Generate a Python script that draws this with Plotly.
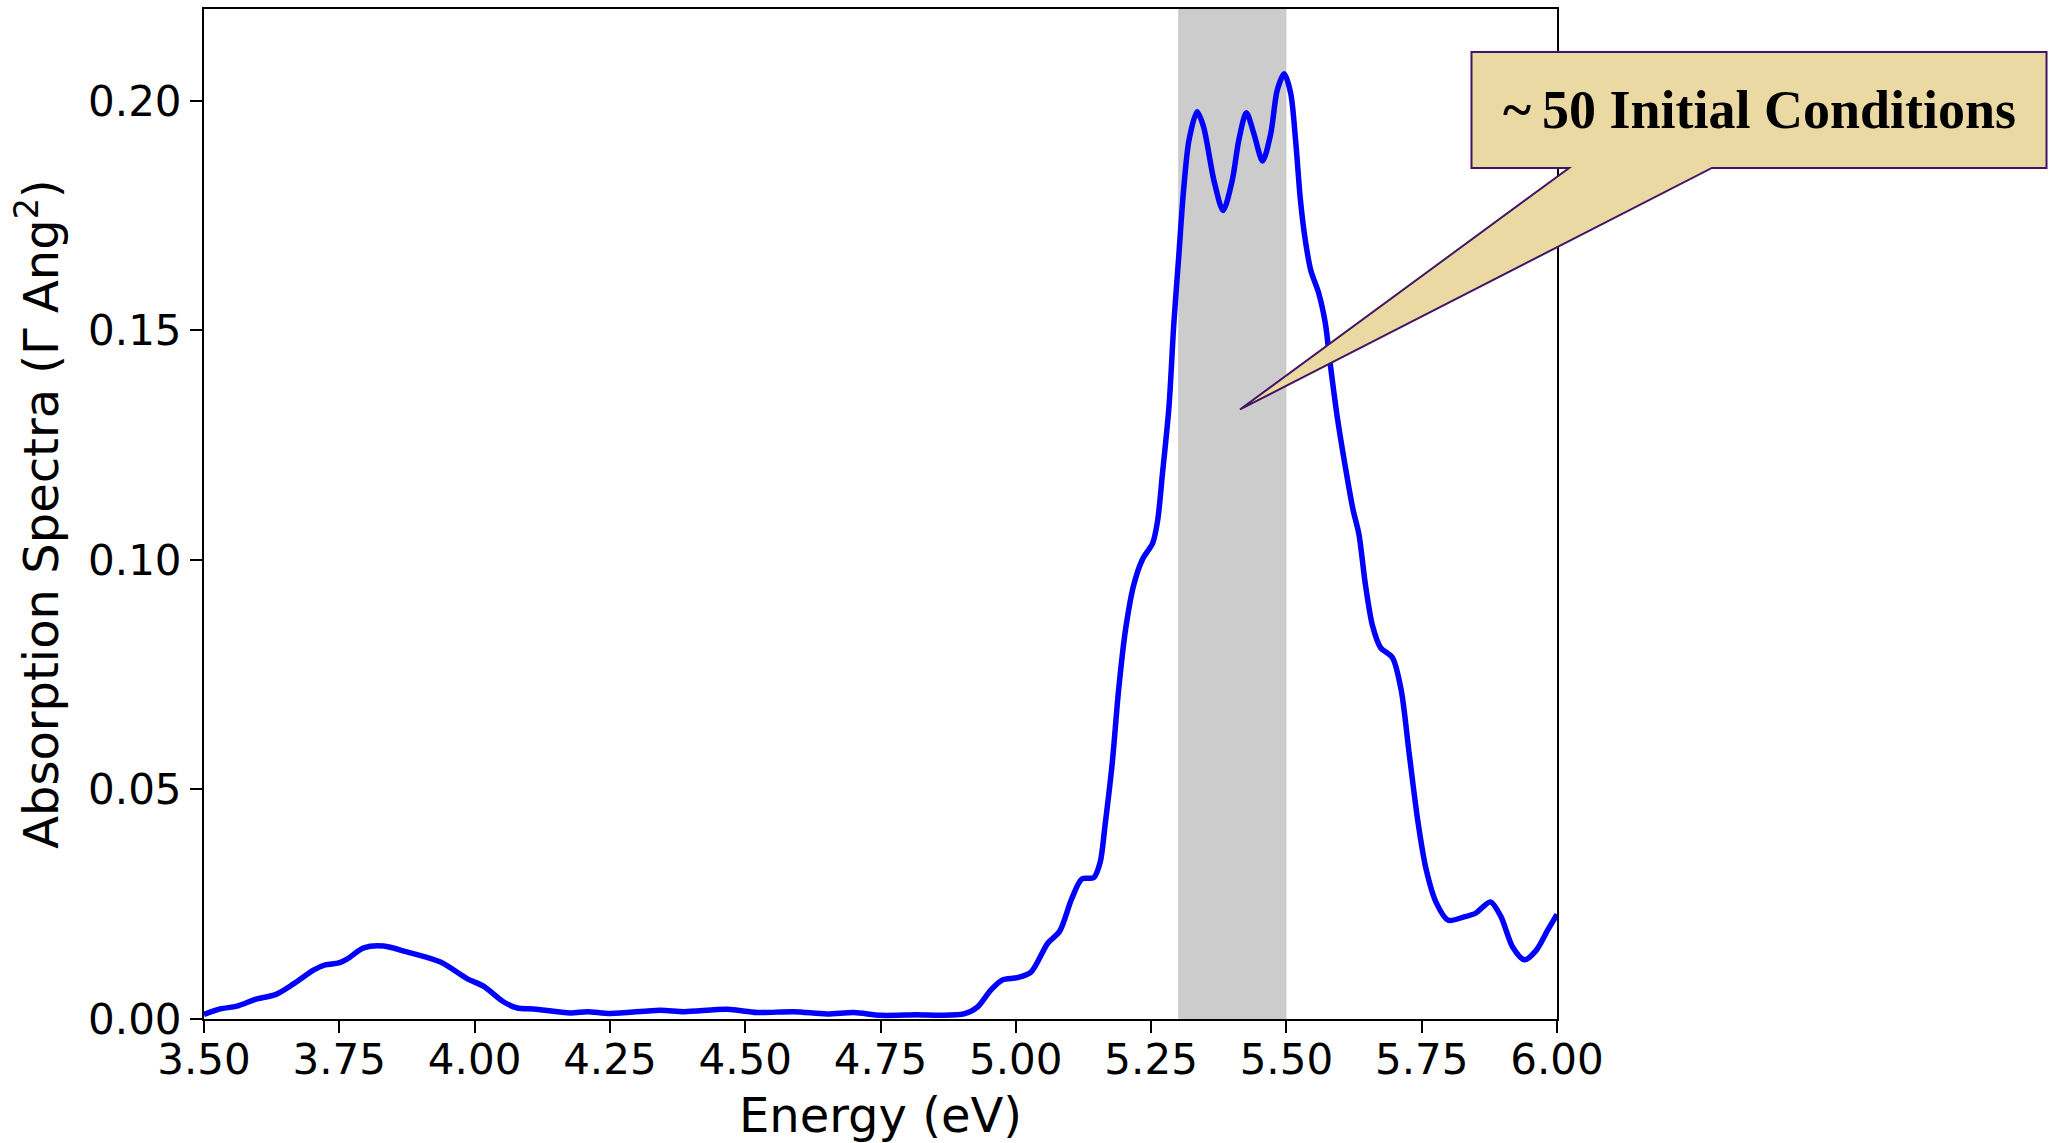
import plotly.graph_objects as go

# ---- data ----
energy = [3.500, 3.530, 3.561, 3.598, 3.632, 3.666, 3.703, 3.724, 3.749, 3.765,
          3.795, 3.832, 3.875, 3.937, 3.986, 4.017, 4.054, 4.079, 4.109, 4.177,
          4.208, 4.251, 4.343, 4.387, 4.467, 4.522, 4.590, 4.651, 4.701, 4.750,
          4.818, 4.861, 4.904, 4.929, 4.953, 4.975, 5.003, 5.028, 5.059, 5.081,
          5.103, 5.122, 5.144, 5.156, 5.165, 5.178, 5.190, 5.203, 5.218, 5.234,
          5.253, 5.262, 5.271, 5.283, 5.292, 5.301, 5.310, 5.320, 5.335, 5.347,
          5.366, 5.383, 5.400, 5.412, 5.426, 5.440, 5.456, 5.471, 5.483, 5.496,
          5.508, 5.517, 5.526, 5.535, 5.545, 5.560, 5.572, 5.581, 5.594, 5.609,
          5.623, 5.634, 5.646, 5.659, 5.674, 5.696, 5.712, 5.727, 5.743, 5.758,
          5.777, 5.799, 5.827, 5.849, 5.877, 5.896, 5.918, 5.940, 5.962, 5.983,
          6.000]
absorption = [0.0010, 0.0022, 0.0028, 0.0044, 0.0053, 0.0077, 0.0107, 0.0118, 0.0122, 0.0131,
              0.0155, 0.0159, 0.0146, 0.0124, 0.0088, 0.0071, 0.0037, 0.0024, 0.0022, 0.0013,
              0.0016, 0.0012, 0.0019, 0.0016, 0.0021, 0.0014, 0.0016, 0.0011, 0.0014, 0.0008,
              0.0009, 0.0008, 0.0011, 0.0026, 0.0062, 0.0085, 0.0090, 0.0102, 0.0165, 0.0191,
              0.0261, 0.0305, 0.0308, 0.0342, 0.0423, 0.0555, 0.0717, 0.0850, 0.0946, 0.1001,
              0.1037, 0.1085, 0.1188, 0.1333, 0.1515, 0.1660, 0.1805, 0.1914, 0.1976, 0.1943,
              0.1827, 0.1761, 0.1827, 0.1914, 0.1974, 0.1928, 0.1869, 0.1928, 0.2023, 0.2059,
              0.2016, 0.1914, 0.1783, 0.1696, 0.1631, 0.1580, 0.1515, 0.1427, 0.1311, 0.1202,
              0.1110, 0.1056, 0.0946, 0.0857, 0.0809, 0.0787, 0.0717, 0.0577, 0.0430, 0.0327,
              0.0253, 0.0215, 0.0222, 0.0230, 0.0255, 0.0224, 0.0157, 0.0129, 0.0150, 0.0194,
              0.0228]

band_range = [5.30, 5.50]
x_ticks = [3.50, 3.75, 4.00, 4.25, 4.50, 4.75, 5.00, 5.25, 5.50, 5.75, 6.00]
y_ticks = [0.00, 0.05, 0.10, 0.15, 0.20]
x_tick_labels = ["%.2f" % v for v in x_ticks]
y_tick_labels = ["%.2f" % v for v in y_ticks]
callout_text = "~\u200950 Initial Conditions"

# ---- callout geometry (paper coordinates) ----
BOX_L, BOX_R, BOX_T, BOX_B = 0.9368, 1.3618, 0.9574, 0.8426
WEDGE_L, WEDGE_R = 1.0089, 1.1145
TIP_X, TIP_Y = 0.7657, 0.6035

fig = go.Figure()
fig.add_trace(go.Scatter(
    x=energy, y=absorption, mode="lines",
    line=dict(color="#0000ff", width=5.5, shape="spline", smoothing=0.8),
    showlegend=False, hoverinfo="skip"))

fig.add_shape(type="rect", xref="x", yref="paper", x0=band_range[0], x1=band_range[1],
              y0=0, y1=1, fillcolor="#cccccc", line=dict(width=0), layer="below")

path = (f"M {BOX_L},{BOX_T} L {BOX_R},{BOX_T} L {BOX_R},{BOX_B} L {WEDGE_R},{BOX_B} "
        f"L {TIP_X},{TIP_Y} L {WEDGE_L},{BOX_B} L {BOX_L},{BOX_B} Z")
fig.add_shape(type="path", xref="paper", yref="paper", path=path,
              fillcolor="#ebd9a3", line=dict(color="#421563", width=2), layer="above")

fig.add_annotation(xref="paper", yref="paper", x=(BOX_L + BOX_R) / 2, y=(BOX_T + BOX_B) / 2,
                   text="<b>" + callout_text + "</b>", showarrow=False,
                   font=dict(family="Liberation Serif", size=54, color="black"),
                   xanchor="center", yanchor="middle")

axis_common = dict(showline=True, linecolor="black", linewidth=2, mirror=True,
                   ticks="outside", ticklen=12, tickwidth=2, tickcolor="black",
                   showgrid=False, zeroline=False,
                   tickfont=dict(family="DejaVu Sans", size=42, color="black"))

fig.update_xaxes(range=[3.5, 6.0], tickvals=x_ticks, ticktext=x_tick_labels,
                 ticklabelstandoff=-9,
                 title=dict(text="Energy (eV)", font=dict(family="DejaVu Sans", size=48, color="black"),
                            standoff=17),
                 **axis_common)
fig.update_yaxes(range=[0, 0.22], tickvals=y_ticks, ticktext=y_tick_labels,
                 title=dict(text="Absorption Spectra (\u0393 Ang<sup>2</sup>)",
                            font=dict(family="DejaVu Sans", size=48, color="black"),
                            standoff=14),
                 **axis_common)

fig.update_layout(width=2049, height=1143,
                  margin=dict(l=204, r=492, t=9, b=124, autoexpand=False),
                  plot_bgcolor="white", paper_bgcolor="white")

fig.write_html("out.html")
